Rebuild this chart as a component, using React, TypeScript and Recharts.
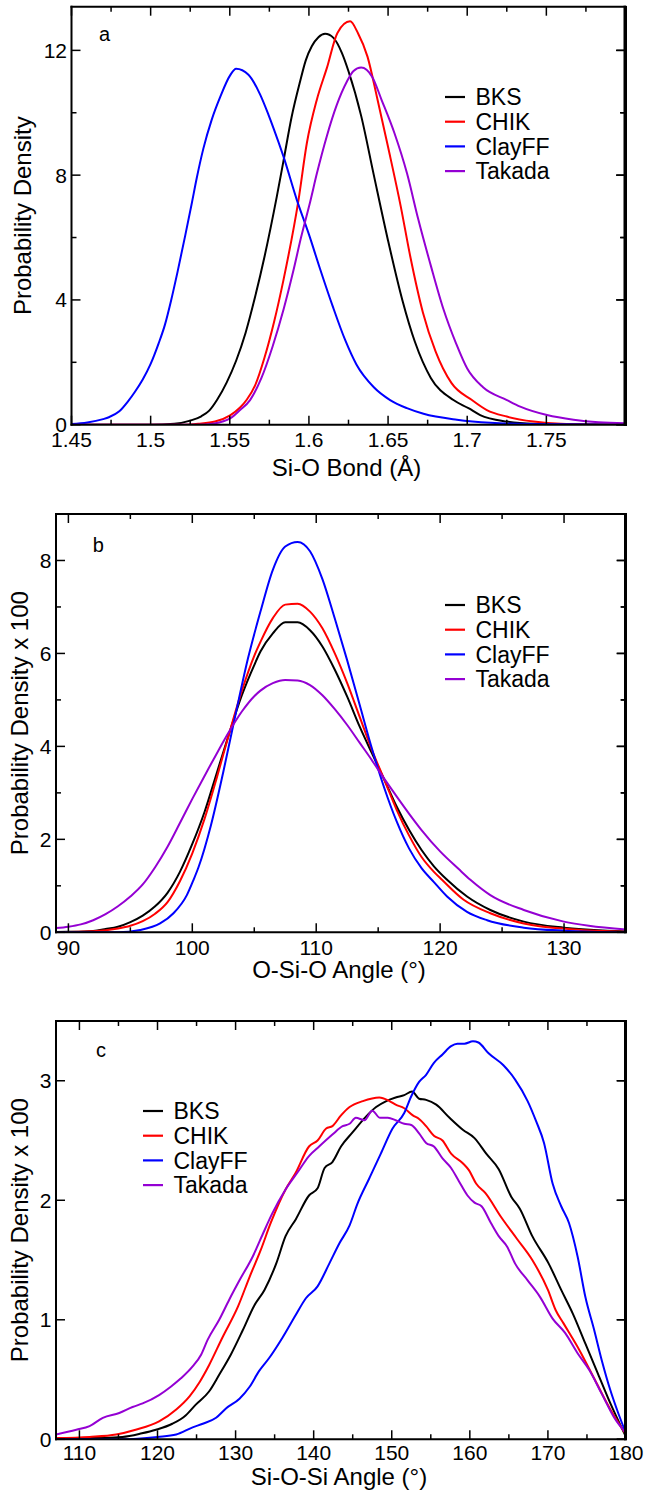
import React from 'react';
import { LineChart, Line, XAxis, YAxis, Legend } from 'recharts';

const FONT = '"Liberation Sans", Arial, Helvetica, sans-serif';
const SERIES_NAMES = ['BKS', 'CHIK', 'ClayFF', 'Takada'];
const SERIES_COLORS = ['#000000', '#ff0000', '#0000ff', '#9400d3'];

// ---------- Panel a : Si-O bond ----------
const bondBKS: [number, number][] = [
  [1.45, 0], [1.5, 0], [1.515, 0.03], [1.525, 0.13], [1.532, 0.27], [1.537, 0.45], [1.542, 0.8],
  [1.548, 1.35], [1.554, 2.05], [1.56, 2.95], [1.566, 4.1], [1.572, 5.4], [1.5797, 7.31],
  [1.5839, 8.45], [1.589, 9.85], [1.5944, 11.0], [1.598, 11.68], [1.6018, 12.13], [1.606, 12.42],
  [1.6102, 12.53], [1.6155, 12.4], [1.6208, 11.92], [1.625, 11.33], [1.633, 9.9], [1.641, 8.0],
  [1.65, 5.9], [1.659, 4.0], [1.667, 2.65], [1.677, 1.5], [1.6913, 0.79], [1.7008, 0.53],
  [1.7082, 0.31], [1.7251, 0.1], [1.742, 0.03], [1.8, 0],
];
const bondCHIK: [number, number][] = [
  [1.45, 0], [1.52, 0], [1.53, 0.03], [1.5407, 0.1], [1.5502, 0.3], [1.5565, 0.55], [1.5607, 0.8],
  [1.566, 1.26], [1.572, 2.16], [1.578, 3.3], [1.584, 4.66], [1.5934, 7.2], [1.5987, 9.03],
  [1.605, 10.42], [1.6113, 11.43], [1.618, 12.56], [1.626, 12.93], [1.631, 12.55], [1.637, 11.8],
  [1.643, 10.5], [1.65, 8.9], [1.658, 7.0], [1.664, 5.4], [1.672, 3.6], [1.68, 2.35], [1.69, 1.34],
  [1.703, 0.79], [1.7124, 0.47], [1.725, 0.26], [1.742, 0.1], [1.759, 0.03], [1.8, 0],
];
const bondClayFF: [number, number][] = [
  [1.45, 0.02], [1.46, 0.07], [1.47, 0.18], [1.4736, 0.24], [1.48, 0.42], [1.4857, 0.75],
  [1.49, 1.05], [1.495, 1.45], [1.5, 1.95], [1.505, 2.6], [1.509, 3.2], [1.513, 4.0], [1.517, 4.9],
  [1.522, 6.1], [1.526, 7.1], [1.5291, 7.9], [1.5333, 8.85], [1.5386, 9.78], [1.5439, 10.5],
  [1.5502, 11.2], [1.554, 11.41], [1.5618, 11.22], [1.5692, 10.58], [1.5744, 9.94], [1.5776, 9.51],
  [1.5839, 8.6], [1.5924, 7.2], [1.6, 6.1], [1.607, 5.0], [1.615, 3.8], [1.623, 2.7], [1.63, 1.93],
  [1.641, 1.2], [1.6513, 0.79], [1.6619, 0.53], [1.6724, 0.35], [1.6935, 0.16], [1.7146, 0.06],
  [1.74, 0.02], [1.8, 0],
];
const bondTakada: [number, number][] = [
  [1.45, 0], [1.53, 0], [1.54, 0.04], [1.5502, 0.2], [1.5565, 0.47], [1.5628, 0.79], [1.57, 1.5],
  [1.577, 2.5], [1.584, 3.7], [1.59, 4.9], [1.595, 6.0], [1.6008, 7.15], [1.605, 8.05],
  [1.6113, 9.25], [1.6176, 10.25], [1.624, 11.0], [1.628, 11.33], [1.633, 11.45], [1.64, 11.15],
  [1.646, 10.4], [1.654, 9.35], [1.662, 8.05], [1.669, 6.6], [1.677, 5.1], [1.685, 3.7], [1.693, 2.6],
  [1.7, 1.8], [1.71, 1.2], [1.7251, 0.79], [1.7335, 0.58], [1.7504, 0.31], [1.7672, 0.16],
  [1.783, 0.08], [1.8, 0.05],
];
const bondXMajor = [1.45, 1.5, 1.55, 1.6, 1.65, 1.7, 1.75];
const bondXMinor = [1.475, 1.525, 1.575, 1.625, 1.675, 1.725, 1.775];
const bondYMajor = [0, 4, 8, 12];
const bondYMinor = [2, 6, 10];

// ---------- Panel b : O-Si-O angle ----------
const osoBKS: [number, number][] = [
  [89, 0.005], [90, 0.01], [92, 0.03], [93, 0.07], [94, 0.12], [95, 0.22], [96, 0.36], [97, 0.56],
  [98, 0.85], [99, 1.3], [100, 1.9], [101, 2.6], [102, 3.45], [103, 4.3], [104, 5.1], [105, 5.75],
  [105.5, 6.04], [106.5, 6.43], [107.5, 6.67], [108.5, 6.67], [109.5, 6.5], [110.5, 6.15],
  [111.5, 5.65], [112.5, 5.07], [113.5, 4.43], [114.5, 3.85], [115.5, 3.28], [116.5, 2.7],
  [117.5, 2.2], [118.5, 1.77], [119.5, 1.42], [120.56, 1.13], [122.17, 0.77], [124.05, 0.48],
  [126.75, 0.23], [129.98, 0.1], [133.5, 0.035], [135, 0.02],
];
const osoCHIK: [number, number][] = [
  [89, 0], [92, 0.02], [94, 0.08], [95, 0.14], [96, 0.24], [97, 0.4], [98, 0.65], [99, 1.1],
  [100, 1.7], [101, 2.45], [102, 3.35], [103, 4.3], [104, 5.2], [105, 5.95], [105.5, 6.25],
  [106.5, 6.76], [107.5, 7.05], [108.5, 7.07], [109.5, 6.9], [110.5, 6.54], [111.5, 6.0],
  [112.5, 5.36], [113.5, 4.64], [114.5, 3.92], [115.5, 3.28], [116.5, 2.63], [117.5, 2.08],
  [118.5, 1.62], [119.5, 1.3], [120.15, 1.13], [121.9, 0.7], [124.05, 0.41], [126.75, 0.19],
  [130.8, 0.06], [135, 0.01],
];
const osoClayFF: [number, number][] = [
  [89, 0], [94, 0], [95.79, 0.05], [97.4, 0.19], [98.48, 0.41], [99.56, 0.8], [100.1, 1.13],
  [100.5, 1.4], [101.5, 2.3], [102.5, 3.45], [103.5, 4.7], [104.5, 5.9], [105.5, 6.9], [106.5, 7.8],
  [107.5, 8.3], [108.5, 8.4], [109.5, 8.2], [110.5, 7.6], [111.5, 6.75], [112.5, 5.85], [113.5, 4.9],
  [114.5, 3.95], [115.5, 3.1], [116.5, 2.38], [117.5, 1.8], [118.5, 1.38], [119.5, 1.08],
  [120.56, 0.77], [122.17, 0.44], [123.79, 0.26], [126.75, 0.1], [129.98, 0.035], [135, 0],
];
const osoTakada: [number, number][] = [
  [89, 0.09], [90, 0.12], [91, 0.17], [92, 0.26], [93, 0.39], [94, 0.56], [95, 0.77], [96, 1.03],
  [97, 1.4], [98, 1.84], [99, 2.35], [100, 2.87], [101, 3.37], [102, 3.86], [103, 4.33],
  [104, 4.75], [105, 5.08], [105.5, 5.2], [106.5, 5.36], [107.5, 5.43], [108.5, 5.42],
  [109.5, 5.32], [110.5, 5.1], [111.5, 4.8], [112.5, 4.46], [113.5, 4.08], [114.5, 3.7], [115.5, 3.3],
  [116.5, 2.92], [117.5, 2.55], [118.5, 2.2], [120, 1.74], [121.5, 1.36], [122.44, 1.13],
  [124.05, 0.8], [126.75, 0.48], [129.98, 0.23], [132, 0.14], [135, 0.06],
];
const osoXMajor = [90, 100, 110, 120, 130];
const osoXMinor = [95, 105, 115, 125, 135];
const osoYMajor = [0, 2, 4, 6, 8];
const osoYMinor = [1, 3, 5, 7, 9];

// ---------- Panel c : Si-O-Si angle ----------
const sosBKS: [number, number][] = [
  [107, 0.01], [111, 0.01], [115.5, 0.02], [118, 0.05], [119.8, 0.08], [121.9, 0.13], [123.6, 0.2],
  [124.9, 0.29], [126.6, 0.4], [127.9, 0.54], [129.4, 0.71], [130.9, 0.91], [132.4, 1.12],
  [133.7, 1.25], [135.2, 1.47], [136.4, 1.7], [137.7, 1.84], [139.4, 2.04], [140.5, 2.1],
  [141.4, 2.27], [142.4, 2.32], [143.5, 2.45], [145, 2.57], [146.7, 2.7], [148, 2.78], [149.3, 2.83],
  [150.5, 2.86], [151.6, 2.88], [152.6, 2.91], [153.5, 2.85], [154.4, 2.84], [155.7, 2.8],
  [157.4, 2.69], [159.1, 2.59], [160.6, 2.52], [162.1, 2.39], [163.7, 2.26], [165.3, 2.03],
  [166.4, 1.93], [168, 1.7], [170.1, 1.47], [171.7, 1.25], [173.2, 1.05], [174.8, 0.8],
  [176.4, 0.55], [178, 0.3], [180, 0.02],
];
const sosCHIK: [number, number][] = [
  [107, 0.01], [111.3, 0.02], [114.7, 0.04], [117.2, 0.08], [120.2, 0.15], [122.4, 0.25],
  [124.1, 0.36], [125.4, 0.48], [126.6, 0.62], [128.3, 0.85], [130.3, 1.11], [131.8, 1.36],
  [133.2, 1.58], [134.5, 1.81], [136.4, 2.09], [137.7, 2.23], [139.4, 2.45], [140.5, 2.5],
  [141.6, 2.6], [142.4, 2.62], [143.5, 2.71], [144.6, 2.78], [146.3, 2.83], [148.4, 2.86],
  [149.7, 2.83], [150.5, 2.8], [151.6, 2.77], [152.7, 2.71], [153.5, 2.68], [154.4, 2.62],
  [155.4, 2.54], [156.5, 2.5], [157.6, 2.39], [159.1, 2.31], [159.9, 2.25], [160.8, 2.14],
  [162, 2.06], [164, 1.86], [166, 1.68], [168, 1.5], [170, 1.25], [171, 1.08], [172, 0.97],
  [174, 0.75], [176, 0.5], [178, 0.25], [180, 0.04],
];
const sosClayFF: [number, number][] = [
  [107, 0], [115.5, 0], [120, 0.02], [122.4, 0.04], [124.5, 0.1], [125.8, 0.13], [127.5, 0.18],
  [128.8, 0.26], [130.5, 0.34], [131.8, 0.44], [133, 0.57], [134.3, 0.68], [136, 0.85], [137.7, 1.04],
  [139, 1.18], [140.5, 1.28], [142, 1.47], [143.3, 1.64], [144.6, 1.79], [145.6, 1.97], [147.1, 2.18],
  [148.6, 2.39], [150.1, 2.6], [151.6, 2.73], [152.5, 2.87], [153.5, 2.99], [154.4, 3.05],
  [155.4, 3.15], [156.5, 3.22], [157.6, 3.29], [158.4, 3.31], [159.3, 3.31], [160.4, 3.33],
  [161.1, 3.32], [162.4, 3.23], [164.3, 3.13], [165.8, 3.01], [167.4, 2.83], [168.5, 2.66],
  [169.5, 2.48], [170.6, 2.14], [171.7, 1.95], [172.7, 1.81], [173.8, 1.53], [174.8, 1.19],
  [175.9, 0.92], [176.9, 0.66], [178, 0.41], [179, 0.22], [180, 0.05],
];
const sosTakada: [number, number][] = [
  [107, 0.04], [109.6, 0.08], [111.3, 0.11], [113, 0.18], [115.1, 0.22], [116.8, 0.27], [118.1, 0.3],
  [120.2, 0.37], [121.7, 0.44], [123, 0.51], [124.5, 0.61], [125.6, 0.71], [126.4, 0.83], [127.9, 1.0],
  [129.2, 1.17], [130.5, 1.33], [132.2, 1.53], [133.5, 1.72], [134.7, 1.89], [136.4, 2.09],
  [137.9, 2.23], [139.4, 2.37], [140.7, 2.45], [142.4, 2.55], [143.7, 2.62], [144.6, 2.64],
  [145.4, 2.69], [146.5, 2.67], [147.5, 2.75], [148.5, 2.69], [149.5, 2.69], [150.5, 2.67],
  [151.6, 2.64], [152.5, 2.63], [153.5, 2.56], [154.4, 2.48], [155.4, 2.45], [156.5, 2.35],
  [157.6, 2.27], [158.6, 2.16], [159.7, 2.04], [160.6, 1.98], [161.5, 1.95], [162.7, 1.81],
  [163.7, 1.7], [164.8, 1.61], [165.8, 1.47], [167.4, 1.33], [169, 1.19], [170.6, 1.01],
  [172.2, 0.89], [173.8, 0.72], [175.3, 0.58], [176.9, 0.38], [178.5, 0.18], [180, 0.05],
];
const sosXMajor = [110, 120, 130, 140, 150, 160, 170, 180];
const sosXMinor = [115, 125, 135, 145, 155, 165, 175];
const sosYMajor = [0, 1, 2, 3];
const sosYMinor: number[] = [];

type Pt = [number, number];
interface PanelCfg {
  height: number;
  plotTop: number;
  plotBottom: number;
  plotLeft: number;
  plotRight: number;
  xDomain: [number, number];
  yDomain: [number, number];
  xMajor: number[];
  xMinor: number[];
  yMajor: number[];
  yMinor: number[];
  series: Pt[][];
  xTitle: string;
  yTitle: string;
  tickOffset: number;
  xTitleOffset: number;
  yTitleX: number;
  letter: string;
  letterX: number;
  letterY: number;
  legendX: number;
  legendY: number;
}

const W = 647;
const near = (arr: number[], v: number) => arr.some((m) => Math.abs(m - v) < 1e-9);

function Panel(p: PanelCfg) {
  const xTicks = [...p.xMajor, ...p.xMinor].sort((a, b) => a - b);
  const yTicks = [...p.yMajor, ...p.yMinor].sort((a, b) => a - b);
  const axisLine = { stroke: '#000', strokeWidth: 2, strokeLinecap: 'square' as const };
  const cx = (p.plotLeft + p.plotRight) / 2 - 2;
  const cy = (p.plotTop + p.plotBottom) / 2;
  const yPix = (v: number) =>
    p.plotBottom - ((v - p.yDomain[0]) / (p.yDomain[1] - p.yDomain[0])) * (p.plotBottom - p.plotTop);

  const bottomTick = (props: any) => {
    const { x, y, payload } = props;
    const major = near(p.xMajor, payload.value);
    return (
      <g>
        <line x1={x} y1={y} x2={x} y2={y - (major ? 9 : 5)} stroke="#000" strokeWidth={1.5} />
        {major && (
          <text x={x} y={y + p.tickOffset} textAnchor="middle" fontSize={21} fontFamily={FONT} fill="#000">
            {String(payload.value)}
          </text>
        )}
      </g>
    );
  };
  const topTick = (props: any) => {
    const { x, payload } = props;
    const major = near(p.xMajor, payload.value);
    const y0 = p.plotTop;
    return <line x1={x} y1={y0} x2={x} y2={y0 + (major ? 9 : 5)} stroke="#000" strokeWidth={1.5} />;
  };
  const leftTick = (props: any) => {
    const { x, y, payload } = props;
    const major = near(p.yMajor, payload.value);
    const len = major ? 9 : 5;
    return (
      <g>
        <line x1={x} y1={y} x2={x + len} y2={y} stroke="#000" strokeWidth={1.5} />
        <line x1={p.plotRight - 0.5} y1={y} x2={p.plotRight - 0.5 - len} y2={y} stroke="#000" strokeWidth={1.5} />
        {major && (
          <text x={x - 4.5} y={y + 7.5} textAnchor="end" fontSize={21} fontFamily={FONT} fill="#000">
            {String(payload.value)}
          </text>
        )}
      </g>
    );
  };

  const xTitle = () => (
    <text x={cx} y={p.plotBottom + p.xTitleOffset} textAnchor="middle" fontSize={24} fontFamily={FONT} fill="#000">
      {p.xTitle}
    </text>
  );
  const yTitle = () => (
    <text
      transform={`translate(${p.yTitleX},${cy}) rotate(-90)`}
      textAnchor="middle"
      fontSize={24}
      fontFamily={FONT}
      fill="#000"
    >
      {p.yTitle}
    </text>
  );
  // panel letter + right frame edge with inward ticks
  const letterAndFrame = () => (
    <g>
      <text x={p.letterX} y={p.letterY} fontSize={20} fontFamily={FONT} fill="#000">
        {p.letter}
      </text>
      <rect
        x={p.plotRight - 2}
        y={p.plotTop - 1}
        width={2.5}
        height={p.plotBottom - p.plotTop + 2}
        fill="#000"
      />
      {yTicks.map((v) => {
        const yy = yPix(v);
        const len = near(p.yMajor, v) ? 9 : 5;
        return <rect key={v} x={p.plotRight - len} y={yy - 0.75} width={len} height={1.5} fill="#000" />;
      })}
    </g>
  );
  const legendContent = () => (
    <svg width={190} height={110} style={{ overflow: 'visible', display: 'block' }}>
      {SERIES_NAMES.map((name, i) => {
        const ly = 12 + i * 24.7;
        return (
          <g key={name}>
            <line x1={0} y1={ly} x2={20} y2={ly} stroke={SERIES_COLORS[i]} strokeWidth={2.2} />
            <text x={30.5} y={ly + 8.3} fontSize={23} fontFamily={FONT} fill="#000">
              {name}
            </text>
          </g>
        );
      })}
    </svg>
  );

  return (
    <LineChart
      width={W}
      height={p.height}
      margin={{ top: p.plotTop - 1, right: W - p.plotRight, bottom: 0, left: 0 }}
    >
      <XAxis
        xAxisId="b"
        dataKey="x"
        type="number"
        domain={p.xDomain}
        allowDataOverflow
        ticks={xTicks}
        interval={0}
        height={p.height - p.plotBottom}
        tickSize={0}
        tickMargin={0}
        tickLine={false}
        axisLine={axisLine}
        tick={bottomTick}
        label={xTitle}
      />
      <XAxis
        xAxisId="t"
        orientation="top"
        dataKey="x"
        type="number"
        domain={p.xDomain}
        allowDataOverflow
        ticks={xTicks}
        interval={0}
        height={1}
        tickSize={0}
        tickMargin={0}
        tickLine={false}
        axisLine={axisLine}
        tick={topTick}
        label={letterAndFrame}
      />
      <YAxis
        yAxisId="l"
        type="number"
        domain={p.yDomain}
        allowDataOverflow
        ticks={yTicks}
        interval={0}
        width={p.plotLeft}
        tickSize={0}
        tickMargin={0}
        tickLine={false}
        axisLine={axisLine}
        tick={leftTick}
        label={yTitle}
      />
      {p.series.map((s, i) => (
        <Line
          key={SERIES_NAMES[i]}
          xAxisId="b"
          yAxisId="l"
          name={SERIES_NAMES[i]}
          data={s.map(([x, y]) => ({ x, y }))}
          dataKey="y"
          type="monotone"
          stroke={SERIES_COLORS[i]}
          strokeWidth={2}
          dot={false}
          activeDot={false}
          isAnimationActive={false}
        />
      ))}
      <Legend
        layout="horizontal"
        verticalAlign="middle"
        align="center"
        wrapperStyle={{ left: p.legendX, top: p.legendY, width: 190, height: 110 }}
        content={legendContent}
      />
    </LineChart>
  );
}

const PANEL_TOPS = [0, 490, 990];
const FRAMES = [
  { right: 625.5, top: 6.7, bottom: 424.7 },
  { right: 626, top: 24, bottom: 442.3 },
  { right: 626, top: 31, bottom: 449.3 },
];

export default function App() {
  return (
    <div
      style={{
        position: 'absolute',
        left: 0,
        top: 0,
        width: W,
        height: 1494,
        background: '#fff',
        fontFamily: FONT,
      }}
    >
      <div style={{ position: 'absolute', left: 0, top: PANEL_TOPS[0] }}>
        <Panel
          height={490}
          plotTop={FRAMES[0].top}
          plotBottom={FRAMES[0].bottom}
          plotLeft={71.5}
          plotRight={FRAMES[0].right}
          xDomain={[1.45, 1.8]}
          yDomain={[0, 13.4]}
          xMajor={bondXMajor}
          xMinor={bondXMinor}
          yMajor={bondYMajor}
          yMinor={bondYMinor}
          series={[bondBKS, bondCHIK, bondClayFF, bondTakada]}
          xTitle="Si-O Bond (Å)"
          yTitle="Probability Density"
          tickOffset={22.3}
          xTitleOffset={51}
          yTitleX={31}
          letter="a"
          letterX={99}
          letterY={41}
          legendX={445}
          legendY={84.7}
        />
      </div>
      <div style={{ position: 'absolute', left: 0, top: PANEL_TOPS[1] }}>
        <Panel
          height={500}
          plotTop={FRAMES[1].top}
          plotBottom={FRAMES[1].bottom}
          plotLeft={56}
          plotRight={FRAMES[1].right}
          xDomain={[89, 135]}
          yDomain={[0, 9]}
          xMajor={osoXMajor}
          xMinor={osoXMinor}
          yMajor={osoYMajor}
          yMinor={osoYMinor}
          series={[osoBKS, osoCHIK, osoClayFF, osoTakada]}
          xTitle="O-Si-O Angle (°)"
          yTitle="Probability Density x 100"
          tickOffset={22.5}
          xTitleOffset={45.6}
          yTitleX={28}
          letter="b"
          letterX={92.7}
          letterY={62.3}
          legendX={445}
          legendY={102.5}
        />
      </div>
      <div style={{ position: 'absolute', left: 0, top: PANEL_TOPS[2] }}>
        <Panel
          height={504}
          plotTop={FRAMES[2].top}
          plotBottom={FRAMES[2].bottom}
          plotLeft={56}
          plotRight={FRAMES[2].right}
          xDomain={[107, 180]}
          yDomain={[0, 3.5]}
          xMajor={sosXMajor}
          xMinor={sosXMinor}
          yMajor={sosYMajor}
          yMinor={sosYMinor}
          series={[sosBKS, sosCHIK, sosClayFF, sosTakada]}
          xTitle="Si-O-Si Angle (°)"
          yTitle="Probability Density x 100"
          tickOffset={20.8}
          xTitleOffset={45.5}
          yTitleX={28}
          letter="c"
          letterX={96}
          letterY={66.7}
          legendX={143.3}
          legendY={108.5}
        />
      </div>
      {FRAMES.map((f, i) => (
        <div
          key={i}
          style={{
            position: 'absolute',
            left: f.right - 1.5,
            top: PANEL_TOPS[i] + f.top - 1,
            width: 2.5,
            height: f.bottom - f.top + 2,
            background: '#000',
            zIndex: 10,
            pointerEvents: 'none',
          }}
        />
      ))}
    </div>
  );
}
